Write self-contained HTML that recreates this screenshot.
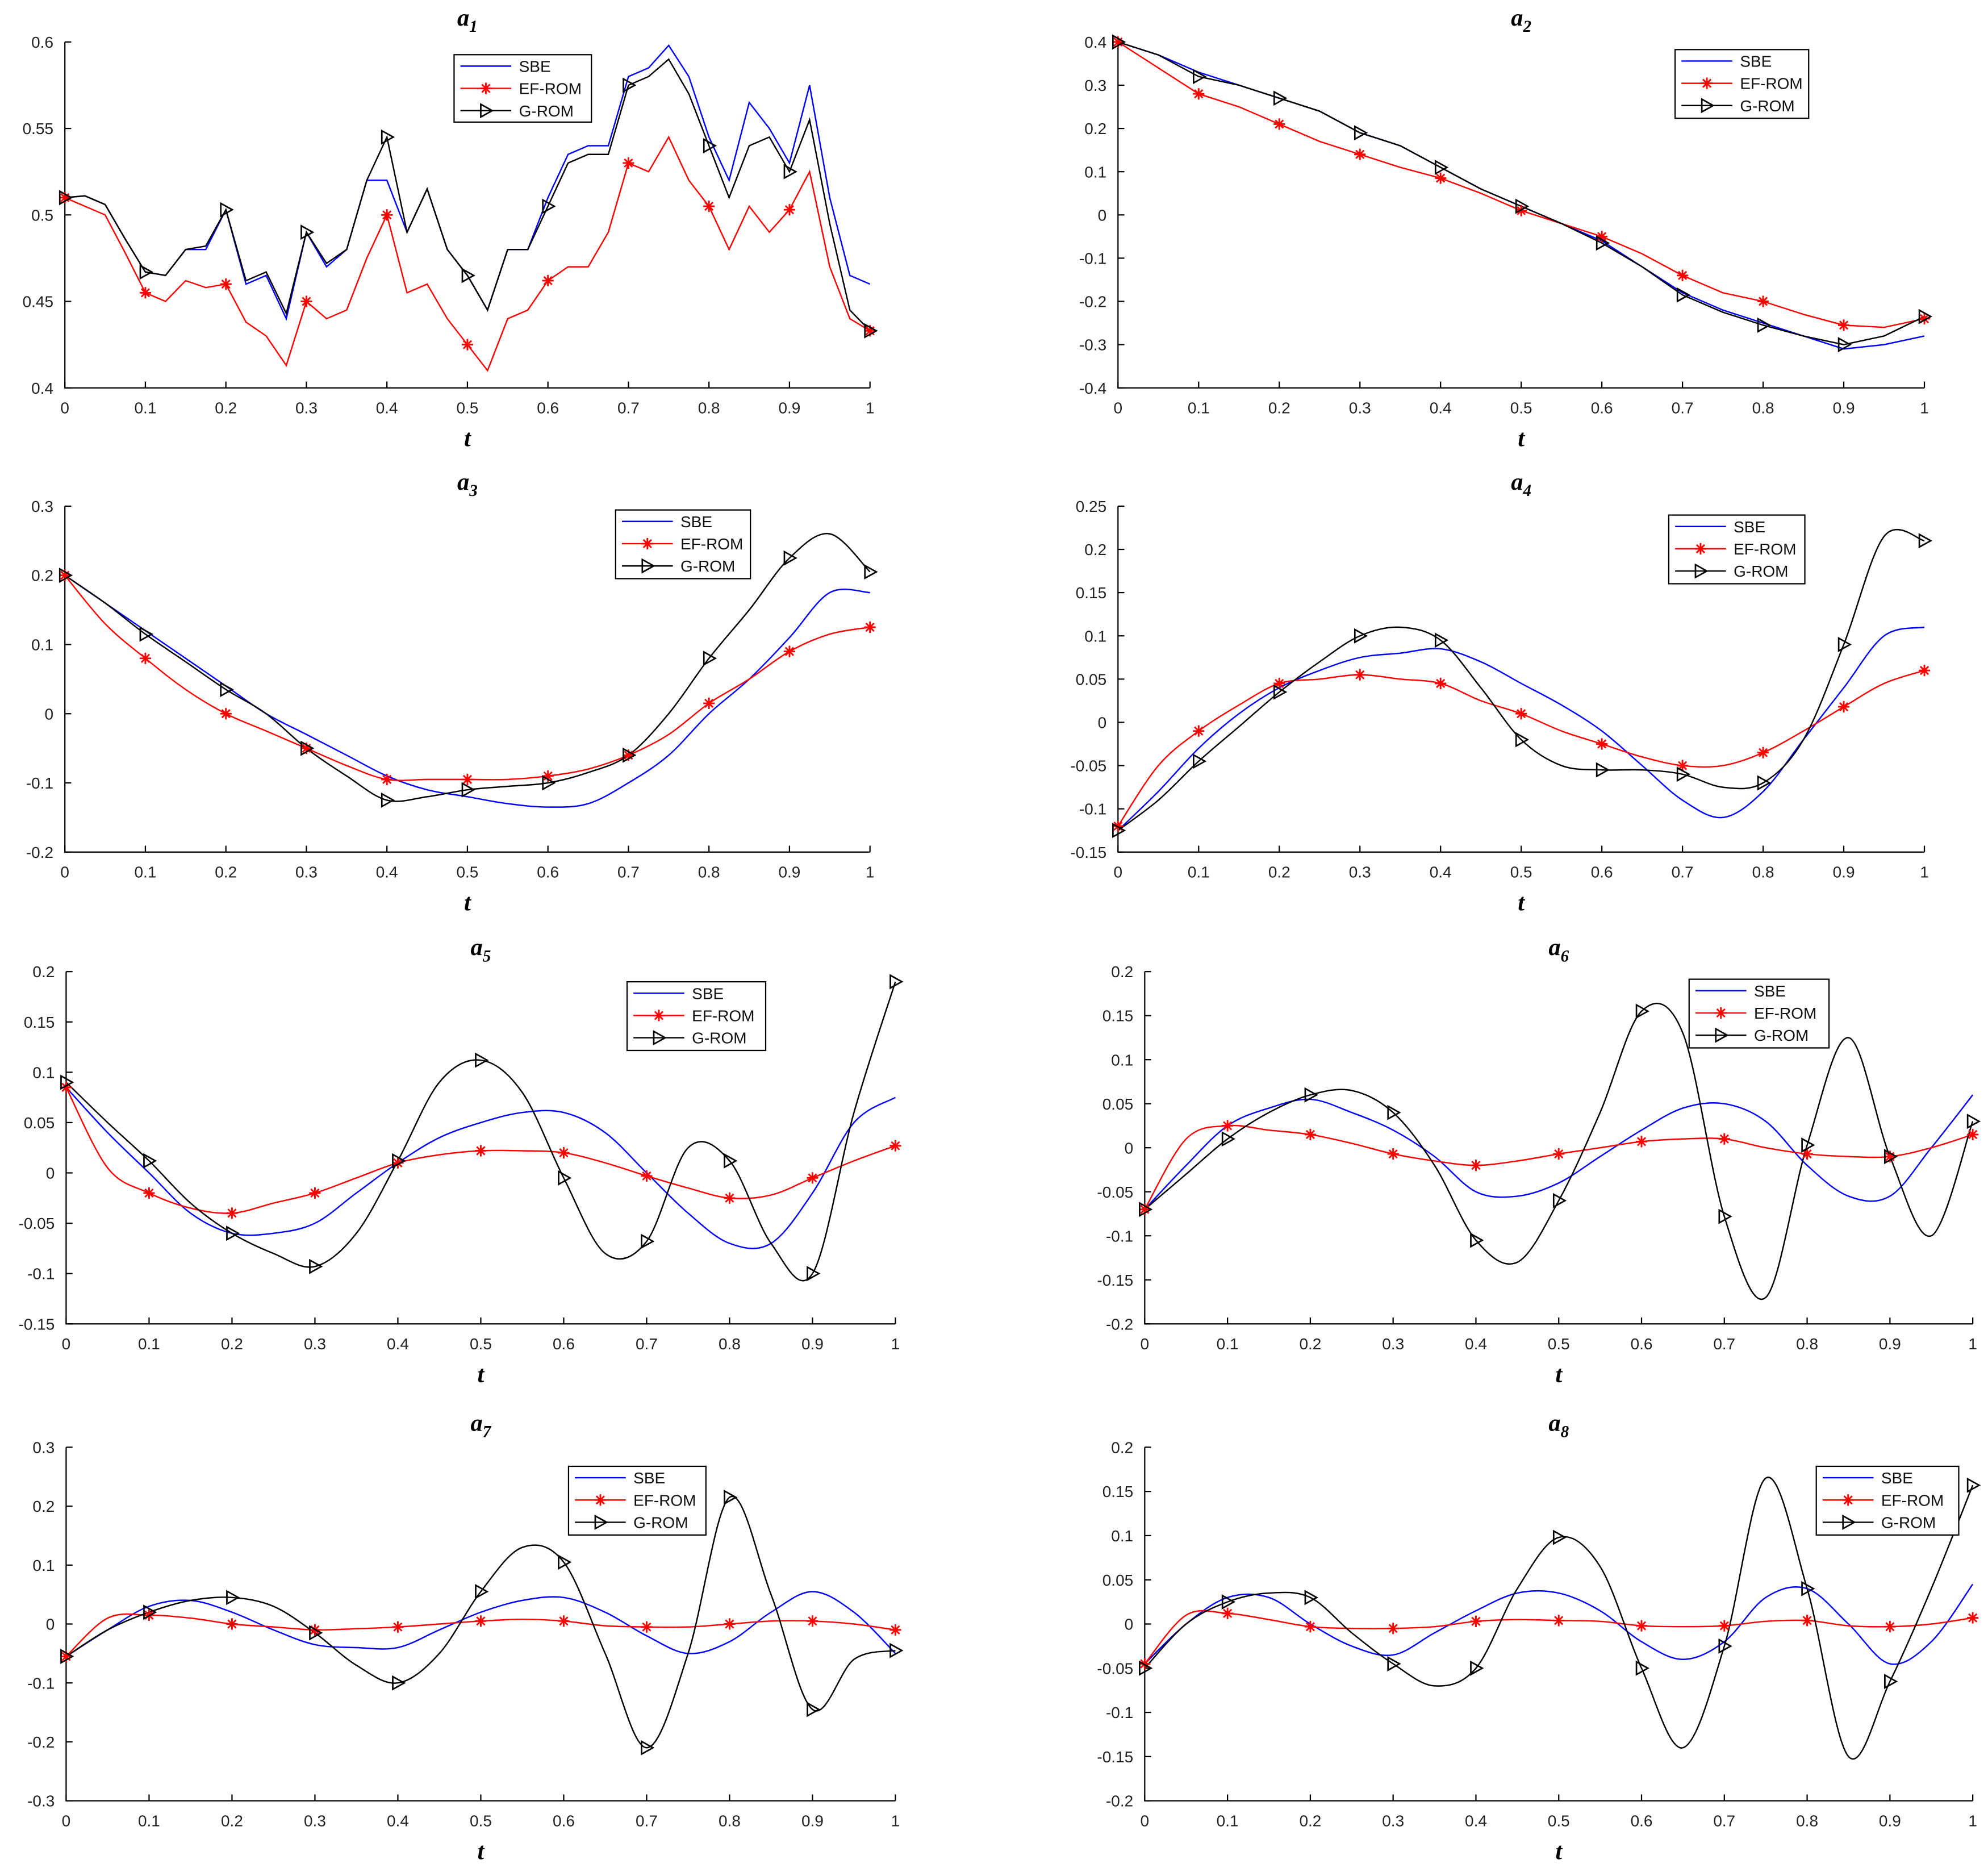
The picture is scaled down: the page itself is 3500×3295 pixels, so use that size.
<!DOCTYPE html>
<html><head><meta charset="utf-8"><style>
html,body{margin:0;padding:0;background:#fff;}
svg{display:block;}
text{font-family:"Liberation Sans",sans-serif;}
.tick{font-size:12.5px;fill:#222;}
.ttl{font-family:"Liberation Serif",serif;font-style:italic;font-weight:bold;font-size:19px;}
.leg{font-size:12.5px;fill:#111;}
</style></head><body>
<svg id="fig" width="3500" height="3295" viewBox="0 0 1563 1472" preserveAspectRatio="none" xmlns="http://www.w3.org/2000/svg"></svg>
<script>
// ---- data ----
const tFine = Array.from({length:41},(_,i)=>i/40);
const tStd = Array.from({length:21},(_,i)=>i/20);
const markerT = [0,0.1,0.2,0.3,0.4,0.5,0.6,0.7,0.8,0.9,1];
const xTickLabels = ["0","0.1","0.2","0.3","0.4","0.5","0.6","0.7","0.8","0.9","1"];

const a1SBE=[.51,.511,.506,.486,.467,.465,.48,.48,.503,.46,.465,.44,.49,.47,.48,.52,.52,.49,.515,.48,.465,.445,.48,.48,.51,.535,.54,.54,.58,.585,.598,.58,.545,.52,.565,.55,.53,.575,.51,.465,.46];
const a1G=[.51,.511,.506,.486,.467,.465,.48,.482,.503,.462,.467,.443,.49,.472,.48,.52,.545,.49,.515,.48,.465,.445,.48,.48,.505,.53,.535,.535,.575,.58,.59,.57,.54,.51,.54,.545,.525,.555,.495,.445,.433];
const a1EF=[.51,.505,.5,.478,.455,.45,.462,.458,.46,.438,.43,.413,.45,.44,.445,.475,.5,.455,.46,.44,.425,.41,.44,.445,.462,.47,.47,.49,.53,.525,.545,.52,.505,.48,.505,.49,.503,.525,.47,.44,.433];

const a2SBE=[.4,.37,.33,.3,.27,.24,.19,.16,.11,.06,.02,-.02,-.06,-.12,-.18,-.22,-.25,-.28,-.31,-.3,-.28];
const a2G=[.4,.37,.32,.3,.27,.24,.19,.16,.11,.06,.02,-.02,-.065,-.12,-.185,-.225,-.255,-.28,-.3,-.28,-.235];
const a2EF=[.4,.34,.28,.25,.21,.17,.14,.11,.085,.05,.01,-.02,-.05,-.09,-.14,-.18,-.2,-.23,-.255,-.26,-.24];

const a3SBE=[.2,.16,.12,.08,.04,0,-.03,-.06,-.09,-.11,-.12,-.13,-.135,-.13,-.1,-.06,0,.05,.11,.175,.175];
const a3G=[.2,.16,.115,.075,.035,0,-.05,-.09,-.125,-.12,-.11,-.105,-.1,-.085,-.06,0,.08,.15,.225,.26,.205];
const a3EF=[.2,.13,.08,.035,0,-.025,-.05,-.075,-.095,-.095,-.095,-.095,-.09,-.08,-.06,-.03,.015,.05,.09,.115,.125];

const a4SBE=[-.125,-.08,-.03,.01,.04,.06,.075,.08,.085,.07,.045,.02,-.01,-.05,-.09,-.11,-.08,-.02,.04,.1,.11];
const a4G=[-.125,-.09,-.045,-.005,.035,.07,.1,.11,.095,.04,-.02,-.05,-.055,-.055,-.06,-.075,-.07,-.02,.09,.215,.21];
const a4EF=[-.12,-.05,-.01,.02,.045,.05,.055,.05,.045,.025,.01,-.01,-.025,-.04,-.05,-.05,-.035,-.01,.018,.045,.06];

const a5SBE=[.085,.04,0,-.04,-.06,-.06,-.05,-.02,.01,.035,.05,.06,.06,.04,0,-.04,-.07,-.07,-.02,.05,.075];
const a5G=[.09,.05,.012,-.03,-.06,-.08,-.093,-.06,.012,.09,.112,.08,-.005,-.08,-.068,.025,.012,-.07,-.1,.06,.19];
const a5EF=[.085,.005,-.02,-.035,-.04,-.03,-.02,-.005,.01,.018,.022,.022,.02,.01,-.003,-.015,-.025,-.022,-.005,.012,.027];

const a6SBE=[-.07,-.02,.025,.045,.055,.04,.02,-.01,-.05,-.055,-.04,-.01,.02,.045,.05,.03,-.02,-.055,-.055,0,.06];
const a6G=[-.07,-.03,.01,.04,.06,.065,.04,-.02,-.105,-.13,-.06,.04,.155,.13,-.078,-.17,.003,.125,-.01,-.1,.03];
const a6EF=[-.07,.01,.025,.02,.015,.005,-.007,-.015,-.02,-.015,-.007,0,.007,.01,.01,0,-.007,-.01,-.01,0,.015];

const a7SBE=[-.055,-.01,.03,.04,.02,-.01,-.035,-.04,-.04,-.01,.02,.04,.045,.02,-.02,-.05,-.03,.02,.055,.02,-.05];
const a7G=[-.055,-.01,.02,.04,.045,.03,-.015,-.07,-.1,-.05,.055,.13,.105,-.05,-.21,-.05,.215,.05,-.145,-.06,-.045];
const a7EF=[-.055,.01,.015,.01,0,-.005,-.01,-.008,-.005,0,.005,.008,.005,-.003,-.005,-.005,0,.005,.005,0,-.01];

const a8SBE=[-.045,0,.03,.03,0,-.025,-.035,-.01,.015,.035,.035,.015,-.02,-.04,-.02,.03,.04,0,-.045,-.02,.045];
const a8G=[-.05,0,.025,.035,.03,-.01,-.045,-.07,-.05,.04,.098,.065,-.05,-.14,-.025,.165,.04,-.15,-.065,.04,.157];
const a8EF=[-.045,.01,.012,.005,-.003,-.005,-.005,-.003,.003,.005,.004,.003,-.002,-.003,-.002,.003,.004,-.002,-.003,0,.007];

// ---- layout ----
const panels=[
 {n:1,x0:51,x1:684,yTop:33,yBot:305,ymin:.4,ymax:.6,yt:[.4,.45,.5,.55,.6],ylab:["0.4","0.45","0.5","0.55","0.6"],t:tFine,S:a1SBE,E:a1EF,G:a1G,smooth:false,leg:[357,43,108,53]},
 {n:2,x0:879,x1:1513,yTop:33,yBot:305,ymin:-.4,ymax:.4,yt:[-.4,-.3,-.2,-.1,0,.1,.2,.3,.4],ylab:["-0.4","-0.3","-0.2","-0.1","0","0.1","0.2","0.3","0.4"],t:tStd,S:a2SBE,E:a2EF,G:a2G,smooth:false,leg:[1317,39,105,54]},
 {n:3,x0:51,x1:684,yTop:398,yBot:670,ymin:-.2,ymax:.3,yt:[-.2,-.1,0,.1,.2,.3],ylab:["-0.2","-0.1","0","0.1","0.2","0.3"],t:tStd,S:a3SBE,E:a3EF,G:a3G,smooth:true,leg:[484,401,106,54]},
 {n:4,x0:879,x1:1513,yTop:398,yBot:670,ymin:-.15,ymax:.25,yt:[-.15,-.1,-.05,0,.05,.1,.15,.2,.25],ylab:["-0.15","-0.1","-0.05","0","0.05","0.1","0.15","0.2","0.25"],t:tStd,S:a4SBE,E:a4EF,G:a4G,smooth:true,leg:[1312,405,107,54]},
 {n:5,x0:52,x1:704,yTop:764,yBot:1041,ymin:-.15,ymax:.2,yt:[-.15,-.1,-.05,0,.05,.1,.15,.2],ylab:["-0.15","-0.1","-0.05","0","0.05","0.1","0.15","0.2"],t:tStd,S:a5SBE,E:a5EF,G:a5G,smooth:true,leg:[493,772,109,54]},
 {n:6,x0:900,x1:1551,yTop:764,yBot:1041,ymin:-.2,ymax:.2,yt:[-.2,-.15,-.1,-.05,0,.05,.1,.15,.2],ylab:["-0.2","-0.15","-0.1","-0.05","0","0.05","0.1","0.15","0.2"],t:tStd,S:a6SBE,E:a6EF,G:a6G,smooth:true,leg:[1328,770,110,54]},
 {n:7,x0:52,x1:704,yTop:1138,yBot:1416,ymin:-.3,ymax:.3,yt:[-.3,-.2,-.1,0,.1,.2,.3],ylab:["-0.3","-0.2","-0.1","0","0.1","0.2","0.3"],t:tStd,S:a7SBE,E:a7EF,G:a7G,smooth:true,leg:[447,1153,108,54]},
 {n:8,x0:900,x1:1551,yTop:1138,yBot:1416,ymin:-.2,ymax:.2,yt:[-.2,-.15,-.1,-.05,0,.05,.1,.15,.2],ylab:["-0.2","-0.15","-0.1","-0.05","0","0.05","0.1","0.15","0.2"],t:tStd,S:a8SBE,E:a8EF,G:a8G,smooth:true,leg:[1428,1153,112,54]}
];
const NS="http://www.w3.org/2000/svg";
const svg=document.getElementById('fig');
function mk(tag,attrs,parent){const e=document.createElementNS(NS,tag);for(const k in attrs)e.setAttribute(k,attrs[k]);(parent||svg).appendChild(e);return e;}
function interp(ts,vs,t){for(let i=0;i<ts.length-1;i++){if(t<=ts[i+1]+1e-9){const f=(t-ts[i])/(ts[i+1]-ts[i]);return vs[i]+f*(vs[i+1]-vs[i]);}}return vs[vs.length-1];}
function pathD(pts,smooth){
  if(!smooth)return 'M'+pts.map(p=>p[0].toFixed(2)+','+p[1].toFixed(2)).join(' L');
  let d='M'+pts[0][0]+','+pts[0][1];
  for(let i=0;i<pts.length-1;i++){
    const p0=pts[Math.max(0,i-1)],p1=pts[i],p2=pts[i+1],p3=pts[Math.min(pts.length-1,i+2)];
    const c1=[p1[0]+(p2[0]-p0[0])/6,p1[1]+(p2[1]-p0[1])/6];
    const c2=[p2[0]-(p3[0]-p1[0])/6,p2[1]-(p3[1]-p1[1])/6];
    d+=` C${c1[0].toFixed(2)},${c1[1].toFixed(2)} ${c2[0].toFixed(2)},${c2[1].toFixed(2)} ${p2[0].toFixed(2)},${p2[1].toFixed(2)}`;
  }
  return d;
}
function star(g,x,y){
  const s=mk('g',{stroke:'#f00','stroke-width':1.3},g);
  
  
  const r=4.5;
  mk('line',{x1:x-r,y1:y,x2:x+r,y2:y},s);
  mk('line',{x1:x,y1:y-r,x2:x,y2:y+r},s);
  mk('line',{x1:x-r*.7,y1:y-r*.7,x2:x+r*.7,y2:y+r*.7},s);
  mk('line',{x1:x-r*.7,y1:y+r*.7,x2:x+r*.7,y2:y-r*.7},s);
}
function tri(g,x,y){
  const p=mk('polygon',{points:`${x-4},${y-5} ${x+5},${y} ${x-4},${y+5}`,fill:'none',stroke:'#000','stroke-width':1.2},g);
  
  
}
panels.forEach(P=>{
  const g=mk('g',{});
  
  
  const X=t=>P.x0+t*(P.x1-P.x0);
  const Y=v=>P.yBot-(v-P.ymin)/(P.ymax-P.ymin)*(P.yBot-P.yTop);
  const ax=mk('path',{d:`M${P.x0},${P.yTop} L${P.x0},${P.yBot} L${P.x1},${P.yBot}`,fill:'none',stroke:'#000','stroke-width':1},g);
  
  
  markerT.forEach((t,i)=>{
    const x=X(t);
    mk('line',{x1:x,y1:P.yBot,x2:x,y2:P.yBot-5,stroke:'#000','stroke-width':1},g);
    const tx=mk('text',{x:x,y:P.yBot+20,'text-anchor':'middle',class:'tick'},g);
    tx.textContent=xTickLabels[i];
    
    
  });
  P.yt.forEach((v,i)=>{
    const y=Y(v);
    mk('line',{x1:P.x0,y1:y,x2:P.x0+5,y2:y,stroke:'#000','stroke-width':1},g);
    const tx=mk('text',{x:P.x0-9,y:y+4.5,'text-anchor':'end',class:'tick'},g);
    tx.textContent=P.ylab[i];
    
    
  });
  const ti=mk('text',{x:(P.x0+P.x1)/2,y:P.yTop-13,'text-anchor':'middle',class:'ttl'},g);
  ti.innerHTML='a<tspan font-size="13" dy="5">'+P.n+'</tspan>';
  
  
  const xl=mk('text',{x:(P.x0+P.x1)/2,y:P.yBot+46,'text-anchor':'middle',class:'ttl'},g);
  xl.textContent='t';
  
  
  const series=[['SBE',P.S,'#0000ff'],['EF-ROM',P.E,'#ff0000'],['G-ROM',P.G,'#000']];
  series.forEach(([nm,vals,col])=>{
    const pts=P.t.map((t,i)=>[X(t),Y(vals[i])]);
    const pth=mk('path',{d:pathD(pts,P.smooth),fill:'none',stroke:col,'stroke-width':1.1},g);
    
    
  });
  markerT.forEach(t=>{star(g,X(t),Y(interp(P.t,P.E,t)));});
  markerT.forEach(t=>{tri(g,X(t),Y(interp(P.t,P.G,t)));});
  const [lx,ly,lw,lh]=P.leg;
  const lg=mk('g',{},g);
  
  
  mk('rect',{x:lx,y:ly,width:lw,height:lh,fill:'#fff',stroke:'#000','stroke-width':1},lg);
  series.forEach(([nm,vals,col],i)=>{
    const yy=ly+9+i*17.5;
    const e=mk('g',{},lg);
    
    
    mk('line',{x1:lx+5,y1:yy,x2:lx+45,y2:yy,stroke:col,'stroke-width':1.1},e);
    if(i===1)star(e,lx+25,yy);
    if(i===2)tri(e,lx+25,yy);
    const tx=mk('text',{x:lx+51,y:yy+4.5,class:'leg'},e);
    tx.textContent=nm;
  });
});
</script>
</body></html>
